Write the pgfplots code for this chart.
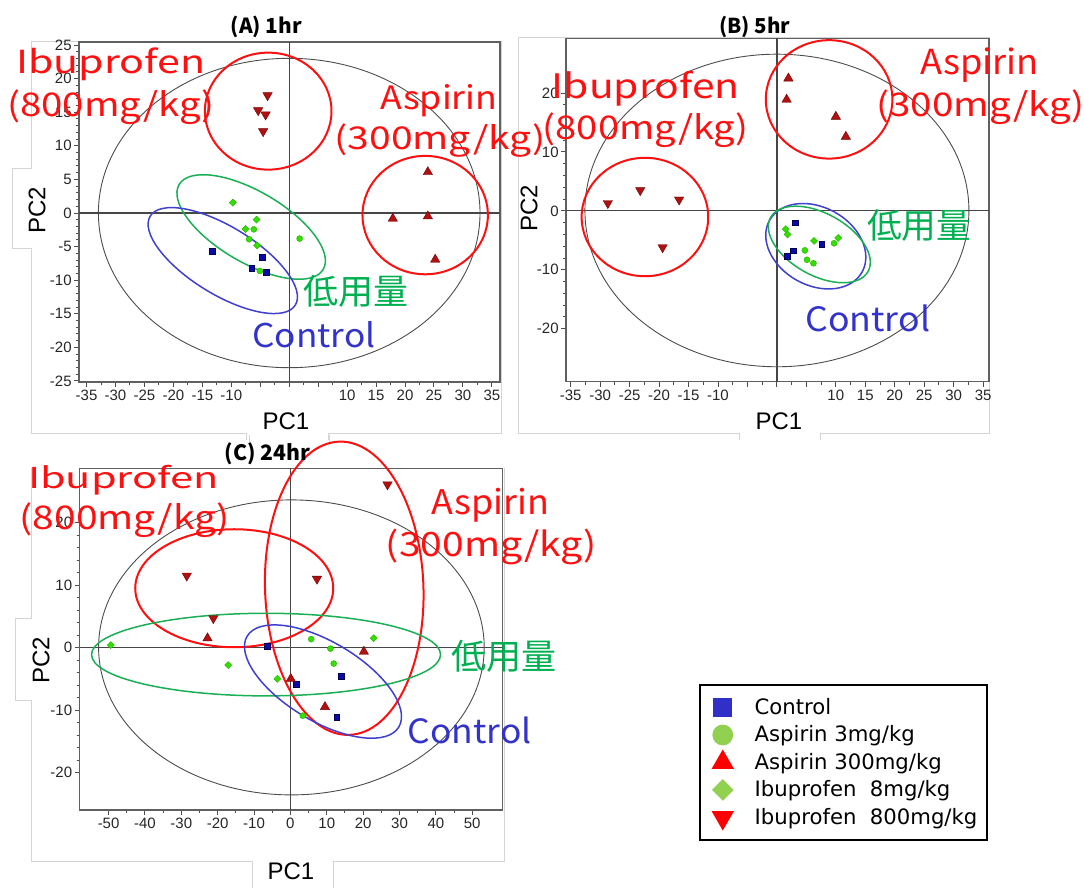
\documentclass[border=0pt]{standalone}
\usepackage{pgfplots}
\pgfplotsset{compat=1.18}
\usepackage{graphicx}
\usepackage{fontspec}
\setmainfont{Liberation Sans}
\newfontfamily\jp{Noto Sans CJK JP}
\newfontfamily\dv{DejaVu Sans}

\definecolor{ctrlfill}{HTML}{0A0AA8}
\definecolor{ctrldraw}{HTML}{000050}
\definecolor{lowfill}{HTML}{33E000}
\definecolor{lowdraw}{HTML}{22B000}
\definecolor{hifill}{HTML}{B01010}
\definecolor{hidraw}{HTML}{700000}
\definecolor{ellred}{HTML}{FF1010}
\definecolor{ellgreen}{HTML}{1AAF54}
\definecolor{ellblue}{HTML}{4040D0}
\definecolor{txtgreen}{HTML}{00B050}
\definecolor{txtblue}{HTML}{3333CC}
\definecolor{legblue}{HTML}{3030C8}
\definecolor{leggreen}{HTML}{92D050}
\definecolor{panelgray}{HTML}{D4D4D4}

\tikzset{
  eblack/.style={draw=gray!60!black, line width=0.45pt},
  ered/.style={draw=ellred, line width=1pt},
  egreen/.style={draw=ellgreen, line width=0.75pt},
  eblue/.style={draw=ellblue, line width=0.75pt},
  cross/.style={draw=gray!55!black, line width=0.6pt},
}
\pgfplotsset{
  pca/.style={scale only axis, clip=false, anchor=north west,
    axis line style={gray!75!black, line width=0.6pt},
    tick style={gray!60!black, line width=0.5pt},
    tick align=outside, major tick length=2.5pt, minor tick length=1.5pt,
    xtick pos=left, ytick pos=left,
    tick label style={font=\fontsize{7.5}{9}\selectfont, text=black!85},
    yticklabel style={inner xsep=1pt},
    xticklabel style={inner ysep=1.5pt}},
  ctrl/.style={only marks, mark=square*, mark size=1.4pt,
    mark options={fill=ctrlfill, draw=ctrldraw, line width=0.3pt}},
  lowc/.style={only marks, mark=*, mark size=1.5pt,
    mark options={fill=lowfill, draw=lowdraw, line width=0.2pt}},
  lowd/.style={only marks, mark=square*, mark size=1.25pt,
    mark options={rotate=45, fill=lowfill, draw=lowdraw, line width=0.2pt}},
  hiup/.style={only marks, mark=triangle*, mark size=2.7pt,
    mark options={fill=hifill, draw=hidraw, line width=0.2pt}},
  hidn/.style={only marks, mark=triangle*, mark size=2.7pt,
    mark options={rotate=180, fill=hifill, draw=hidraw, line width=0.2pt}},
}

\newcommand{\lab}[6]{\node[anchor=base west, inner sep=0pt, text=#5] at (#1,#2) {\resizebox{#3pt}{#4pt}{\jp #6}};}

\begin{document}
\begin{tikzpicture}
\useasboundingbox (0,0) rectangle (542pt,-444pt);

% faint panel outlines
\begin{scope}[x=0.5pt,y=-0.5pt, panelgray, line width=0.5pt]
\draw (246.7,440) -- (246.7,433.3) -- (31.7,433.3) -- (31.7,248.3) -- (12.7,248.3) -- (12.7,169) -- (31.7,169) -- (31.7,41.7) -- (501.7,41.7) -- (501.7,433.3) -- (328.3,433.3) -- (328.3,440);
\draw (739.3,440) -- (739.3,433.3) -- (518,433.3) -- (518,37.7) -- (989,37.7) -- (989,433.3) -- (820.6,433.3) -- (820.6,440);
\draw (252.4,888) -- (252.4,861.7) -- (31.8,861.7) -- (31.8,700) -- (15.9,700) -- (15.9,618.3) -- (31.8,618.3) -- (31.8,468);
\draw (333,888) -- (333,861.7) -- (504,861.7) -- (504,468);
\draw (249,435) -- (249,445); \draw (329,435) -- (329,445);
\end{scope}

% ---------------- (A) 1hr ----------------
\begin{axis}[pca, at={(39.5pt,-21pt)}, width=210.5pt, height=170pt,
  xmin=-36.3, xmax=36.4, ymin=-25.15, ymax=25.45,
  xtick={-35,-30,...,35},
  xticklabels={-35,-30,-25,-20,-15,-10,{},{},{},10,15,20,25,30,35},
  ytick={-25,-20,...,25},
  yticklabels={-25,-20,-15,-10,-5,0,5,10,15,20,25},
  minor x tick num=1, minor y tick num=4]
\draw[cross] (axis cs:0,-25.15) -- (axis cs:0,25.45);
\draw[cross] (axis cs:-36.3,0) -- (axis cs:36.4,0);
\draw[eblack] (axis cs:0,0) ellipse [x radius=95.4pt, y radius=77.35pt];
\addplot[ctrl] coordinates {(-13.3,-5.74) (-4.67,-6.59) (-6.45,-8.27) (-3.98,-8.78)};
\addplot[lowd] coordinates {(-9.74,1.55) (-5.64,-0.98) (-7.54,-2.38) (-5.54,-4.81)};
\addplot[lowc] coordinates {(-6.11,-2.43) (-6.92,-3.91) (1.8,-3.81) (-5.07,-8.63)};
\addplot[hiup] coordinates {(23.94,6.1) (17.89,-0.83) (23.94,-0.49) (25.21,-6.93)};
\addplot[hidn] coordinates {(-3.74,17.51) (-5.36,15.28) (-4.08,14.64) (-4.5,12.16)};
\draw[ered] (axis cs:-3.63,15.16) ellipse [x radius=31.65pt, y radius=29.25pt];
\draw[ered] (axis cs:23.48,-0.31) ellipse [x radius=31.35pt, y radius=29.6pt];
\draw[egreen, rotate around={-30.5:(axis cs:-6.57,-2.08)}] (axis cs:-6.57,-2.08) ellipse [x radius=41.8pt, y radius=17.7pt];
\draw[eblue, rotate around={-31.5:(axis cs:-11.47,-7.08)}] (axis cs:-11.47,-7.08) ellipse [x radius=42.55pt, y radius=16.9pt];
\end{axis}

% ---------------- (B) 5hr ----------------
\begin{axis}[pca, at={(283pt,-19.15pt)}, width=211.5pt, height=171.7pt,
  xmin=-35.8, xmax=36.0, ymin=-29.0, ymax=29.3,
  xtick={-35,-30,...,35},
  xticklabels={-35,-30,-25,-20,-15,-10,{},{},{},10,15,20,25,30,35},
  ytick={-20,-10,...,20},
  yticklabels={-20,-10,0,10,20},
  minor x tick num=1, minor y tick num=4]
\draw[cross] (axis cs:0,-29.0) -- (axis cs:0,29.3);
\draw[cross] (axis cs:-35.8,0) -- (axis cs:36.0,0);
\draw[eblack] (axis cs:0,0.07) ellipse [x radius=96pt, y radius=78.15pt];
\addplot[ctrl] coordinates {(3.1,-2.0) (7.6,-5.7) (2.8,-6.8) (1.8,-7.7)};
\addplot[lowd] coordinates {(1.5,-3.1) (1.8,-4.0) (6.3,-5.1) (10.4,-4.6)};
\addplot[lowc] coordinates {(9.7,-5.5) (4.75,-6.7) (5.1,-8.3) (6.2,-8.9)};
\addplot[hiup] coordinates {(1.95,22.5) (1.65,18.9) (10.0,16.0) (11.7,12.6)};
\addplot[hidn] coordinates {(-28.7,1.3) (-23.2,3.5) (-16.6,1.9) (-19.4,-6.2)};
\draw[ered] (axis cs:-22.4,-1.04) ellipse [x radius=31.65pt, y radius=29.6pt];
\draw[ered] (axis cs:8.86,18.93) ellipse [x radius=31.65pt, y radius=29.6pt];
\draw[eblue, rotate around={-29.1:(axis cs:6.6,-6.0)}] (axis cs:6.6,-6.0) ellipse [x radius=26.5pt, y radius=19.5pt];
\draw[egreen, rotate around={-29:(axis cs:7.2,-5.7)}] (axis cs:7.2,-5.7) ellipse [x radius=27.85pt, y radius=15.5pt];
\end{axis}

% ---------------- (C) 24hr ----------------
\begin{axis}[pca, at={(39.75pt,-234.15pt)}, width=211.65pt, height=170.85pt,
  xmin=-58.0, xmax=58.4, ymin=-26.0, ymax=28.7,
  xtick={-50,-40,...,50},
  xticklabels={-50,-40,-30,-20,-10,0,10,20,30,40,50},
  ytick={-20,-10,...,20},
  yticklabels={-20,-10,0,10,20},
  minor x tick num=1, minor y tick num=4,
  legend cell align=left,
  legend style={at={(1.4635,0.3687)}, anchor=north west, draw=black, line width=0.9pt,
    font=\dv\fontsize{10.6}{12}\selectfont, inner xsep=3pt, inner ysep=4.5pt,
    row sep=0.2pt, column sep=5.5pt},
  legend image code/.code={\path (-8pt,0pt) (8pt,0pt); \draw[#1] plot coordinates {(0pt,0pt)};}]
\draw[cross] (axis cs:0,-26.0) -- (axis cs:0,28.7);
\draw[cross] (axis cs:-58.0,0) -- (axis cs:58.4,0);
\draw[eblack] (axis cs:0.27,0.03) ellipse [x radius=96.4pt, y radius=73.75pt];
\addplot[ctrl, forget plot] coordinates {(-6.3,0.16) (1.57,-5.85) (14.0,-4.6) (12.8,-11.2)};
\addplot[lowd, forget plot] coordinates {(-49.4,0.4) (-17.1,-2.8) (-3.6,-5.0) (22.9,1.5)};
\addplot[lowc, forget plot] coordinates {(5.7,1.35) (11.0,-0.16) (11.9,-2.56) (3.4,-10.9)};
\addplot[hiup, forget plot] coordinates {(-22.8,1.5) (20.2,-0.64) (0.1,-5.0) (9.5,-9.5)};
\addplot[hidn, forget plot] coordinates {(26.7,26.1) (-28.5,11.5) (7.3,11.0) (-21.2,4.7)};
\draw[ered] (axis cs:-15.45,9.5) ellipse [x radius=49.5pt, y radius=29.5pt];
\draw[ered, rotate around={2:(axis cs:14.8,9.5)}] (axis cs:14.8,9.5) ellipse [x radius=39.6pt, y radius=73.35pt];
\draw[egreen] (axis cs:-6.7,-1.12) ellipse [x radius=87.25pt, y radius=20.65pt];
\draw[eblue, rotate around={-30.9:(axis cs:8.96,-5.44)}] (axis cs:8.96,-5.44) ellipse [x radius=44.2pt, y radius=19.75pt];
\addlegendimage{only marks, mark=square*, mark size=4.25pt, mark options={fill=legblue, draw=legblue}}
\addlegendentry{Control}
\addlegendimage{only marks, mark=*, mark size=4.75pt, mark options={fill=leggreen, draw=leggreen}}
\addlegendentry{Aspirin 3mg/kg}
\addlegendimage{only marks, mark=triangle*, mark size=5.6pt, mark options={fill=red, draw=red}}
\addlegendentry{Aspirin 300mg/kg}
\addlegendimage{only marks, mark=square*, mark size=3.36pt, mark options={rotate=45, fill=leggreen, draw=leggreen}}
\addlegendentry{Ibuprofen~~8mg/kg}
\addlegendimage{only marks, mark=triangle*, mark size=5.6pt, mark options={rotate=180, fill=red, draw=red}}
\addlegendentry{Ibuprofen~~800mg/kg}
\end{axis}

% ---------------- titles, labels, annotations ----------------
\begin{scope}[x=0.5pt,y=-0.5pt]
\node[inner sep=0pt] at (266.3,26.7) {\resizebox{35.5pt}{!}{\jp\bfseries (A) 1hr}};
\node[inner sep=0pt] at (754.8,26.7) {\resizebox{35.5pt}{!}{\jp\bfseries (B) 5hr}};
\node[inner sep=0pt] at (267.3,453.3) {\resizebox{42.7pt}{!}{\jp\bfseries (C) 24hr}};

\node[inner sep=0pt] at (286,421) {\fontsize{12}{14}\selectfont PC1};
\node[inner sep=0pt, rotate=90] at (37,210) {\fontsize{12}{14}\selectfont PC2};
\node[inner sep=0pt] at (779,421) {\fontsize{12}{14}\selectfont PC1};
\node[inner sep=0pt, rotate=90] at (529,208) {\fontsize{12}{14}\selectfont PC2};
\node[inner sep=0pt] at (291,871) {\fontsize{12}{14}\selectfont PC1};
\node[inner sep=0pt, rotate=90] at (41,660) {\fontsize{12}{14}\selectfont PC2};

% A
\lab{16}{74}{94.5}{12.85}{ellred}{Ibuprofen}
\lab{6.7}{116.7}{103.65}{13.35}{ellred}{(800mg/kg)}
\lab{380}{110}{58.5}{12.5}{ellred}{Aspirin}
\lab{334}{150}{105.5}{12.85}{ellred}{(300mg/kg)}
\lab{252}{348}{61.5}{13}{txtblue}{Control}
\node[inner sep=0pt, text=txtgreen] at (356,291) {\resizebox{52.5pt}{!}{\jp 低用量}};
% B
\lab{551.5}{99}{93.9}{13.65}{ellred}{Ibuprofen}
\lab{542.4}{140}{103}{13.35}{ellred}{(800mg/kg)}
\lab{919.8}{75}{59.25}{13.35}{ellred}{Aspirin}
\lab{876}{116.7}{104}{13.35}{ellred}{(300mg/kg)}
\lab{805}{331.7}{62.35}{13.35}{txtblue}{Control}
\node[inner sep=0pt, text=txtgreen] at (919,225.3) {\resizebox{52pt}{!}{\jp 低用量}};
% C
\lab{27.8}{488.3}{95.4}{11.65}{ellred}{Ibuprofen}
\lab{19.1}{530}{105.3}{13.35}{ellred}{(800mg/kg)}
\lab{431.2}{514}{58.65}{13.15}{ellred}{Aspirin}
\lab{385.5}{556.7}{105.35}{13.7}{ellred}{(300mg/kg)}
\lab{407.4}{743.3}{62}{13.3}{txtblue}{Control}
\node[inner sep=0pt, text=txtgreen] at (503.8,656.7) {\resizebox{52.65pt}{!}{\jp 低用量}};
\end{scope}
\end{tikzpicture}
\end{document}
